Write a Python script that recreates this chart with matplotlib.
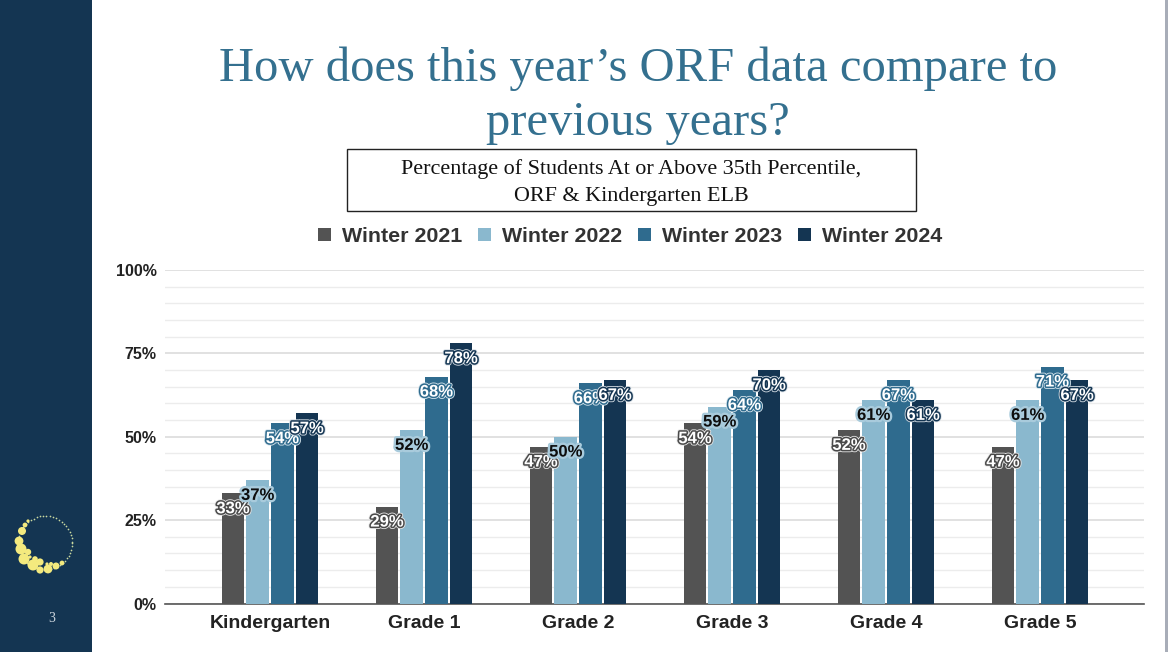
import matplotlib
matplotlib.use("Agg")
import matplotlib.pyplot as plt
import matplotlib.patheffects as pe
from matplotlib.patches import Rectangle, Circle
import numpy as np

W, H = 1168, 652

grades = ["Kindergarten", "Grade 1", "Grade 2", "Grade 3", "Grade 4", "Grade 5"]
years = ["Winter 2021", "Winter 2022", "Winter 2023", "Winter 2024"]
winter_2021 = [33, 29, 47, 54, 52, 47]
winter_2022 = [37, 52, 50, 59, 61, 61]
winter_2023 = [54, 68, 66, 64, 67, 71]
winter_2024 = [57, 78, 67, 70, 61, 67]
y_ticks = [0, 25, 50, 75, 100]

colors = ["#535353", "#8ab8ce", "#2f6b8e", "#143552"]
label_colors = ["white", "#0d0d0d", "white", "white"]
edge_colors = ["#4a4a4a", "#a9cbdc", "#2f6b8e", "#143552"]
halo_colors = ["#e6e6e6", "#a9cbdc", "#d5e4ec", "#d5dde4"]
title_color = "#34708f"
serif = "Liberation Serif"
sans = "Liberation Sans"

fig = plt.figure(figsize=(W / 100, H / 100), dpi=100, facecolor="white")

# page layer in pixel coords
bg = fig.add_axes([0, 0, 1, 1])
bg.set_xlim(0, W)
bg.set_ylim(H, 0)
bg.axis("off")
bg.add_patch(Rectangle((0, 0), 92, H, color="#143552", lw=0))
bg.add_patch(Rectangle((1165, 0), 3, H, color="#a8adb8", lw=0))

bg.text(638, 69, "How does this year\u2019s ORF data compare to", family=serif, fontsize=35,
        color=title_color, ha="center", va="center")
bg.text(638, 123, "previous years?", family=serif, fontsize=35,
        color=title_color, ha="center", va="center")
bg.add_patch(Rectangle((346.5, 149), 569, 62, fc="white", ec="#222222", lw=1))
bg.text(631, 169, "Percentage of Students At or Above 35th Percentile,", family=serif,
        fontsize=15.9, color="#111111", ha="center", va="center")
bg.text(631, 197, "ORF & Kindergarten ELB", family=serif,
        fontsize=15.9, color="#111111", ha="center", va="center")
bg.text(52, 619, "3", family=serif, fontsize=10, color="#cfd8e0", ha="center", va="center")

# logo
theta = np.radians(np.arange(0, 360, 7))
bg.scatter(45 + 27 * np.cos(theta), 543 + 27 * np.sin(theta), s=1.5, color="#c9d8a0", lw=0)
blob_x = [22, 19, 21, 24, 28, 33, 35, 40, 40, 48, 56, 62, 51, 25, 28, 47, 30]
blob_y = [531, 541, 549, 559, 552, 565, 559, 570, 562, 569, 566, 563, 564, 525, 521, 564, 557]
blob_r = [4, 4.4, 5.5, 5.5, 3.2, 5.5, 2.8, 3.6, 3.6, 4.4, 3.5, 2.4, 2, 2.4, 1.6, 1.6, 1.6]
for bx, by, br in zip(blob_x, blob_y, blob_r):
    bg.add_patch(Circle((bx, by), br, color="#f4ea7e", lw=0))

# chart
ax = fig.add_axes([165 / W, 1 - 603.5 / H, (1144 - 165) / W, (603.5 - 270) / H])
ax.patch.set_alpha(0)
ax.set_ylim(0, 100)
ax.set_xlim(-105 / 154, (1144 - 270) / 154)

series = [winter_2021, winter_2022, winter_2023, winter_2024]
x = np.arange(len(grades))
pitch = 24.7 / 154
for i, (vals, year) in enumerate(zip(series, years)):
    pos = x + (i - 1.5) * pitch
    ax.bar(pos, vals, width=22.5 / 154, color=colors[i], zorder=3, label=year)
    for px, v in zip(pos, vals):
        ax.annotate(f"{v}%", (px, v), xytext=(0, -11), textcoords="offset points",
                    ha="center", va="center", family=sans, fontweight="bold", fontsize=12,
                    color=label_colors[i], zorder=5,
                    path_effects=[pe.withStroke(linewidth=3.4, foreground=halo_colors[i]),
                                  pe.withStroke(linewidth=2.2, foreground=edge_colors[i])])

ax.set_yticks(y_ticks)
ax.set_yticklabels([f"{t}%" for t in y_ticks], family=sans, fontweight="bold",
                   fontsize=11.5, color="#222222")
ax.set_yticks(np.arange(0, 101, 5), minor=True)
ax.grid(axis="y", which="major", color="#d8d8d8", lw=1.1, zorder=0)
ax.grid(axis="y", which="minor", color="#ececec", lw=1, zorder=0)
ax.set_xticks(x)
ax.set_xticklabels(grades, family=sans, fontweight="bold", fontsize=14, color="#222222")
ax.tick_params(axis="both", which="both", length=0)
ax.tick_params(axis="x", pad=8)
ax.tick_params(axis="y", pad=6)
for s in ["top", "right", "left"]:
    ax.spines[s].set_visible(False)
ax.spines["bottom"].set_color("#555555")
ax.spines["bottom"].set_linewidth(1.2)

fig.legend(*ax.get_legend_handles_labels(), loc="center", bbox_to_anchor=(630 / W, 1 - 236.5 / H),
           ncol=4, frameon=False, handlelength=0.6, handleheight=0.6, handletextpad=0.5,
           columnspacing=0.76, prop={"family": sans, "weight": "bold", "size": 15.4},
           labelcolor="#333333")

fig.savefig("out.png", dpi=100)
